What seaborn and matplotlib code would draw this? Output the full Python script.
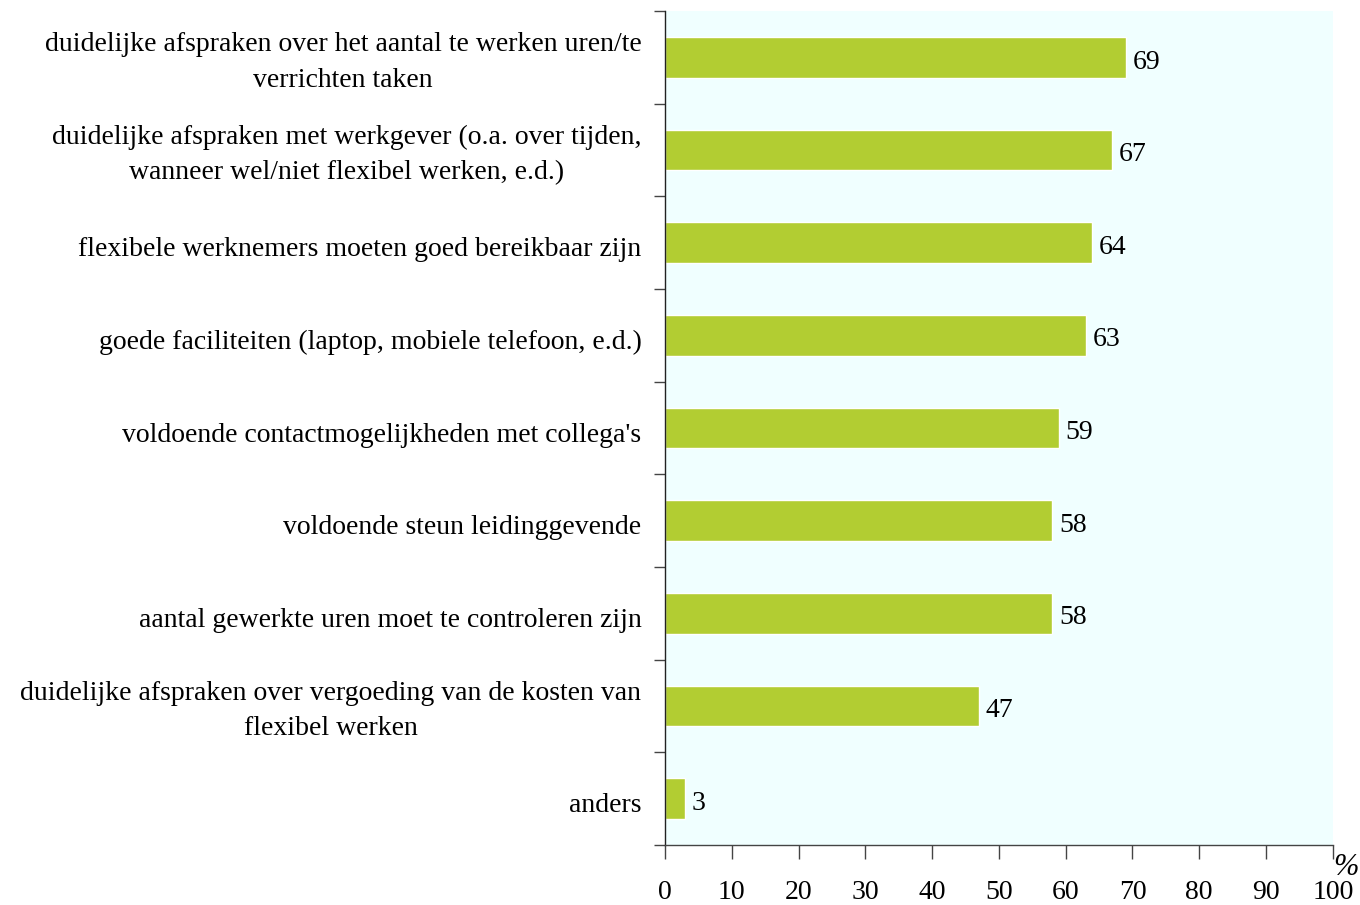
import numpy as np
import pandas as pd
import matplotlib
matplotlib.use("Agg")
import matplotlib.pyplot as plt
import matplotlib.transforms as mtransforms
import seaborn as sns

categorieen = [
    "duidelijke afspraken over het aantal te werken uren/te\nverrichten taken",
    "duidelijke afspraken met werkgever (o.a. over tijden,\nwanneer wel/niet flexibel werken, e.d.)",
    "flexibele werknemers moeten goed bereikbaar zijn",
    "goede faciliteiten (laptop, mobiele telefoon, e.d.)",
    "voldoende contactmogelijkheden met collega's",
    "voldoende steun leidinggevende",
    "aantal gewerkte uren moet te controleren zijn",
    "duidelijke afspraken over vergoeding van de kosten van\nflexibel werken",
    "anders",
]
waarden = [69, 67, 64, 63, 59, 58, 58, 47, 3]
x_ticks = [0, 10, 20, 30, 40, 50, 60, 70, 80, 90, 100]

df = pd.DataFrame({"categorie": categorieen, "waarde": waarden})

sns.set_theme(style="white")
plt.rcParams['font.family'] = ['Liberation Serif', 'DejaVu Serif']
plt.rcParams['text.color'] = 'black'
plt.rcParams['xtick.labelcolor'] = 'black'
plt.rcParams['ytick.labelcolor'] = 'black'

fig = plt.figure(figsize=(13.6, 9.05), dpi=100)
ax = fig.add_axes([0.489, 0.0663, 0.491, 0.9215])
ax.set_facecolor("#F0FFFF")

sns.barplot(data=df, x="waarde", y="categorie", orient="h",
            color="#B2CD32", saturation=1, width=0.44, ax=ax)

n = len(categorieen)
ax.set_xlim(0, 100)
ax.set_ylim(n - 0.5, -0.5)
ax.set_xticks(x_ticks)
ax.set_xticklabels([str(t) for t in x_ticks], fontsize=20)
ax.set_xlabel("")
ax.set_ylabel("")

# labels op categorie, streepjes tussen categorieen
ax.set_yticks(range(n))
ax.set_yticklabels(categorieen, fontsize=20, multialignment="center",
                   linespacing=1.55)
ax.set_yticks(np.arange(-0.5, n, 1.0), minor=True)
ax.tick_params(axis="y", which="major", length=0, pad=17)
ax.tick_params(axis="y", which="minor", length=8, width=1, color="#444444", left=True)
ax.tick_params(axis="x", which="major", length=10, width=1, color="#444444",
               bottom=True, pad=15)

# labels iets verschuiven, zoals in het origineel
for lbl in ax.get_yticklabels():
    dy = 3 if "\n" in lbl.get_text() else -4
    verschuif = mtransforms.ScaledTranslation(0, dy / 100, fig.dpi_scale_trans)
    lbl.set_transform(lbl.get_transform() + verschuif)

for s in ["top", "right"]:
    ax.spines[s].set_visible(False)
ax.spines["left"].set_color("#222222")
ax.spines["bottom"].set_color("#444444")
ax.spines["left"].set_linewidth(1)
ax.spines["bottom"].set_linewidth(1)

for i, v in enumerate(waarden):
    ax.text(v + 1, i + 0.05, str(v), va="center", ha="left", fontsize=20)

ax.text(1.0, -0.01, "%", transform=ax.transAxes, fontsize=22,
        ha="left", va="top", style="italic")

fig.savefig("out.png", dpi=100)
